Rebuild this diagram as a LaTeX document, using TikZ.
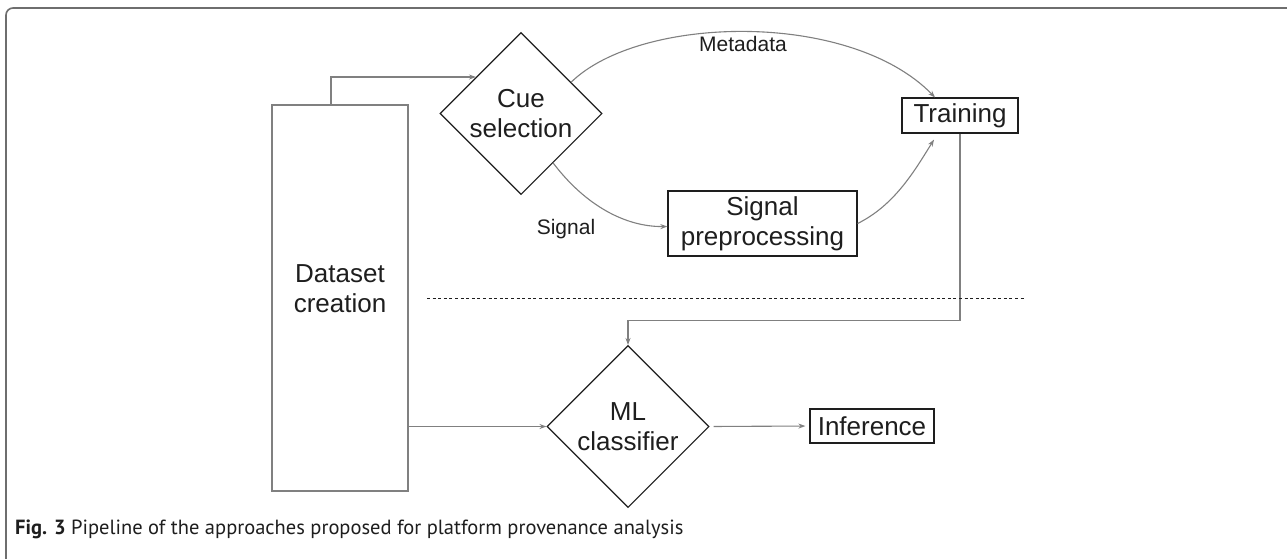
\documentclass[tikz,border=0pt]{standalone}
\usepackage{fontspec}
\setmainfont{Liberation Sans}
\newfontfamily\capfont{PT Sans}
\usetikzlibrary{shapes.geometric,arrows.meta,calc}
\definecolor{conn}{RGB}{128,128,128}
\definecolor{framec}{RGB}{110,110,110}
\definecolor{ink}{RGB}{30,30,30}
\begin{document}
\begin{tikzpicture}[x=1pt,y=-1pt,
  txt/.style={text=ink, font=\fontsize{26}{30}\selectfont, align=center},
  lbl/.style={text=ink, font=\fontsize{21}{25}\selectfont, inner sep=0pt},
  boxnode/.style={txt, draw=ink, line width=1.2pt, inner sep=0pt},
  dia/.style={txt, draw=ink, line width=1.1pt, shape=diamond, aspect=1, minimum width=162pt, minimum height=162pt, inner sep=0pt},
  arr/.style={draw=conn, line width=1.1pt, -{Stealth[length=7pt,width=5pt]}},
]
\useasboundingbox (0,0) rectangle (1287,558);
\fill[white] (0,0) rectangle (1287,558);
\draw[framec, line width=1.6pt, rounded corners=7pt] (6,562) -- (6,8) -- (1292,8);

% nodes
\node[draw=conn, line width=1.3pt, minimum width=136pt, minimum height=386pt, inner sep=0pt] (ds) at (340,298) {};
\node[txt] (dstext) at ($(ds.center)+(0,-9)$) {Dataset\\creation};
\node[dia] (cue) at (521,113.5) {Cue\\selection};
\node[boxnode, minimum width=116pt, minimum height=35pt] (train) at (960,115.5) {Training};
\node[boxnode, minimum width=189pt, minimum height=65pt] (spp) at (762.5,223.5) {Signal\\preprocessing};
\node[dia] (ml) at (628,426.5) {ML\\classifier};
\node[boxnode, minimum width=124pt, minimum height=34pt] (inf) at (872,426) {Inference};

% labels
\node[lbl] (meta) at (743,44) {Metadata};
\node[lbl] (sig) at (566,229) {Signal};

% connectors
\draw[arr] ($(ds.north)+(-9,0)$) |- (cue.141);
\draw[arr] (cue.32) .. controls (640,15) and (850,10) .. ($(train.north)+(-25,0)$);
\draw[arr] (cue.-57) .. controls (585,205) and (625,227) .. ($(spp.west)+(0,3)$);
\draw[arr] (spp.east) .. controls (895,205) and (915,170) .. ($(train.south)+(-26,6)$);
\draw[arr] (train.south) -- ++(0,187) -| (ml.north);
\draw[arr] (ml.west -| ds.east) -- (ml.west);
\draw[arr, shorten <=4pt, shorten >=4pt] (ml.east) -- (inf.west);

% separator
\draw[ink, line width=0.9pt, dash pattern=on 3pt off 2.6pt] (427,298) -- (1025,298);

% caption
\node[anchor=base west, inner sep=0pt, text=ink, font=\capfont\fontsize{20.5}{24}\selectfont] (cap) at (15,534) {\textbf{Fig. 3} Pipeline of the approaches proposed for platform provenance analysis};
\end{tikzpicture}
\end{document}
